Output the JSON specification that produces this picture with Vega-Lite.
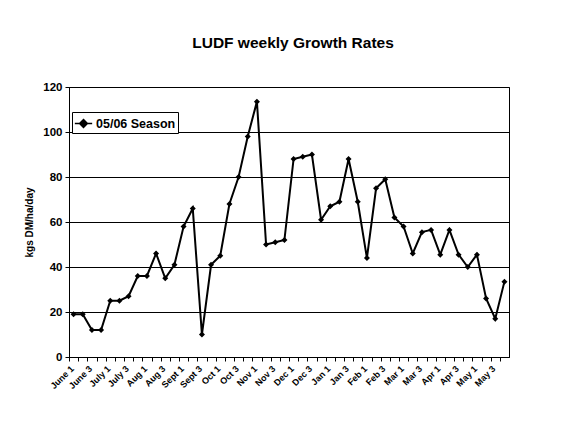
{
  "$schema": "https://vega.github.io/schema/vega-lite/v6.json",
  "autosize": "none",
  "width": 440,
  "height": 270,
  "padding": {"left": 69, "top": 87, "right": 54, "bottom": 67},
  "background": "white",
  "title": {
    "text": "LUDF weekly Growth Rates",
    "font": "Liberation Sans",
    "fontSize": 15.5,
    "fontWeight": "bold",
    "color": "black",
    "anchor": "middle",
    "offset": 30,
    "dx": 4
  },
  "config": {
    "view": {"stroke": "black", "strokeWidth": 1},
    "axis": {
      "labelFont": "Liberation Sans",
      "labelFontWeight": "bold",
      "labelColor": "black",
      "titleFont": "Liberation Sans",
      "titleFontWeight": "bold",
      "titleColor": "black",
      "domainColor": "black",
      "tickColor": "black"
    }
  },
  "data": {
    "values": [
      {"week": "June 1", "rate": 19, "season": "05/06 Season"},
      {"week": "June 2", "rate": 19, "season": "05/06 Season"},
      {"week": "June 3", "rate": 12, "season": "05/06 Season"},
      {"week": "June 4", "rate": 12, "season": "05/06 Season"},
      {"week": "July 1", "rate": 25, "season": "05/06 Season"},
      {"week": "July 2", "rate": 25, "season": "05/06 Season"},
      {"week": "July 3", "rate": 27, "season": "05/06 Season"},
      {"week": "July 4", "rate": 36, "season": "05/06 Season"},
      {"week": "Aug 1", "rate": 36, "season": "05/06 Season"},
      {"week": "Aug 2", "rate": 46, "season": "05/06 Season"},
      {"week": "Aug 3", "rate": 35, "season": "05/06 Season"},
      {"week": "Aug 4", "rate": 41, "season": "05/06 Season"},
      {"week": "Sept 1", "rate": 58, "season": "05/06 Season"},
      {"week": "Sept 2", "rate": 66, "season": "05/06 Season"},
      {"week": "Sept 3", "rate": 10, "season": "05/06 Season"},
      {"week": "Sept 4", "rate": 41, "season": "05/06 Season"},
      {"week": "Oct 1", "rate": 45, "season": "05/06 Season"},
      {"week": "Oct 2", "rate": 68, "season": "05/06 Season"},
      {"week": "Oct 3", "rate": 80, "season": "05/06 Season"},
      {"week": "Oct 4", "rate": 98, "season": "05/06 Season"},
      {"week": "Nov 1", "rate": 113.5, "season": "05/06 Season"},
      {"week": "Nov 2", "rate": 50, "season": "05/06 Season"},
      {"week": "Nov 3", "rate": 51, "season": "05/06 Season"},
      {"week": "Nov 4", "rate": 52, "season": "05/06 Season"},
      {"week": "Dec 1", "rate": 88, "season": "05/06 Season"},
      {"week": "Dec 2", "rate": 89, "season": "05/06 Season"},
      {"week": "Dec 3", "rate": 90, "season": "05/06 Season"},
      {"week": "Dec 4", "rate": 61, "season": "05/06 Season"},
      {"week": "Jan 1", "rate": 67, "season": "05/06 Season"},
      {"week": "Jan 2", "rate": 69, "season": "05/06 Season"},
      {"week": "Jan 3", "rate": 88, "season": "05/06 Season"},
      {"week": "Jan 4", "rate": 69, "season": "05/06 Season"},
      {"week": "Feb 1", "rate": 44, "season": "05/06 Season"},
      {"week": "Feb 2", "rate": 75, "season": "05/06 Season"},
      {"week": "Feb 3", "rate": 79, "season": "05/06 Season"},
      {"week": "Feb 4", "rate": 62, "season": "05/06 Season"},
      {"week": "Mar 1", "rate": 58, "season": "05/06 Season"},
      {"week": "Mar 2", "rate": 46, "season": "05/06 Season"},
      {"week": "Mar 3", "rate": 55.5, "season": "05/06 Season"},
      {"week": "Mar 4", "rate": 56.5, "season": "05/06 Season"},
      {"week": "Apr 1", "rate": 45.5, "season": "05/06 Season"},
      {"week": "Apr 2", "rate": 56.5, "season": "05/06 Season"},
      {"week": "Apr 3", "rate": 45.5, "season": "05/06 Season"},
      {"week": "Apr 4", "rate": 40, "season": "05/06 Season"},
      {"week": "May 1", "rate": 45.5, "season": "05/06 Season"},
      {"week": "May 2", "rate": 26, "season": "05/06 Season"},
      {"week": "May 3", "rate": 17, "season": "05/06 Season"},
      {"week": "May 4", "rate": 33.5, "season": "05/06 Season"}
    ]
  },
  "mark": {
    "type": "line",
    "strokeWidth": 2,
    "point": {"shape": "diamond", "size": 36, "filled": true, "color": "black"}
  },
  "encoding": {
    "x": {
      "field": "week",
      "type": "ordinal",
      "sort": null,
      "scale": {"type": "point", "padding": 0.5},
      "axis": {
        "title": null,
        "labelAngle": -45,
        "labelFontSize": 9,
        "labelExpr": "test(/[13]$/, datum.value) ? datum.value : ''",
        "labelPadding": 3,
        "tickSize": 4,
        "tickOffset": -4.58,
        "labelOverlap": false,
        "grid": false
      }
    },
    "y": {
      "field": "rate",
      "type": "quantitative",
      "scale": {"domain": [0, 120], "nice": false},
      "axis": {
        "title": "kgs DM/ha/day",
        "titleFontSize": 10,
        "titlePadding": 8,
        "values": [0, 20, 40, 60, 80, 100, 120],
        "labelFontSize": 11.5,
        "tickSize": 4,
        "labelPadding": 3,
        "grid": true,
        "gridColor": "black",
        "gridOpacity": 1
      }
    },
    "color": {
      "field": "season",
      "type": "nominal",
      "scale": {"range": ["black"]},
      "legend": {
        "title": null,
        "orient": "none",
        "legendX": 3,
        "legendY": 25,
        "strokeColor": "black",
        "fillColor": "white",
        "padding": 2,
        "labelFont": "Liberation Sans",
        "labelFontWeight": "bold",
        "labelFontSize": 12.5,
        "labelColor": "black",
        "symbolType": "M-1,0L1,0M0,-0.45L0.45,0L0,0.45L-0.45,0Z",
        "symbolSize": 300,
        "symbolStrokeWidth": 1.5,
        "symbolFillColor": "black",
        "symbolStrokeColor": "black",
        "labelOffset": 3
      }
    }
  }
}
